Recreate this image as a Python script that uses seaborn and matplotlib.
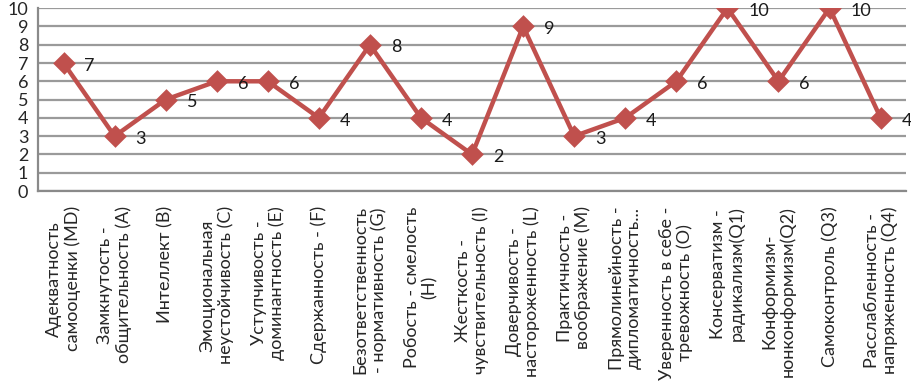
import numpy as np
import pandas as pd
import seaborn as sns
import matplotlib.pyplot as plt
from matplotlib.ticker import FixedLocator

labels = [
    "Адекватность\nсамооценки (MD)",
    "Замкнутость -\nобщительность (A)",
    "Интеллект (B)",
    "Эмоциональная\nнеустойчивость (C)",
    "Уступчивость -\nдоминантность (E)",
    "Сдержанность - (F)",
    "Безответственность\n- нормативность (G)",
    "Робость - смелость\n(H)",
    "Жесткость -\nчувствительность (I)",
    "Доверчивость -\nнастороженность (L)",
    "Практичность -\nвоображение (M)",
    "Прямолинейность -\nдипломатичность...",
    "Уверенность в себе -\nтревожность (O)",
    "Консерватизм -\nрадикализм(Q1)",
    "Конформизм-\nнонконформизм(Q2)",
    "Самоконтроль (Q3)",
    "Расслабленность -\nнапряженность (Q4)",
]
values = [7, 3, 5, 6, 6, 4, 8, 4, 2, 9, 3, 4, 6, 10, 6, 10, 4]

df = pd.DataFrame({"trait": labels, "score": values})

sns.set_style("white")
plt.rcParams['font.family'] = ['Lato', 'DejaVu Sans']

fig = plt.figure(figsize=(9.11, 3.88), dpi=100)
ax = fig.add_axes([0.0417, 0.5077, 0.953, 0.4713])

red = "#C0504D"
sns.pointplot(data=df, x="trait", y="score", color=red, markers="D",
              markersize=9, linewidth=3.2, ax=ax)

n = len(values)
ax.set_xlim(-0.5, n - 0.5)
ax.set_ylim(0, 10)
ax.set_yticks(range(0, 11))
ax.yaxis.grid(True, color="#9a9a9a", linewidth=1.6)
ax.set_axisbelow(True)
ax.set_xlabel("")
ax.set_ylabel("")

for i, v in enumerate(values):
    ax.annotate(str(v), (i, v), xytext=(15, -2), textcoords="offset points",
                ha="left", va="center", fontsize=13, color="#1a1a1a")

ax.set_xticks(range(n))
ax.set_xticklabels(labels, rotation=90, ha="center", va="top",
                   multialignment="center", fontsize=13, linespacing=1.12)
ax.xaxis.set_minor_locator(FixedLocator(np.arange(-0.5, n, 1.0)))
ax.tick_params(axis="x", which="major", length=0, pad=11)
ax.tick_params(axis="x", which="minor", length=5, width=1.2, color="#8a8a8a", direction="out")
ax.tick_params(axis="y", length=5, width=1.2, color="#8a8a8a", labelsize=13, pad=2)

for s in ["top", "right"]:
    ax.spines[s].set_visible(False)
for s in ["left", "bottom"]:
    ax.spines[s].set_color("#8a8a8a")
    ax.spines[s].set_linewidth(1.6)

fig.savefig("out.png", dpi=100)
